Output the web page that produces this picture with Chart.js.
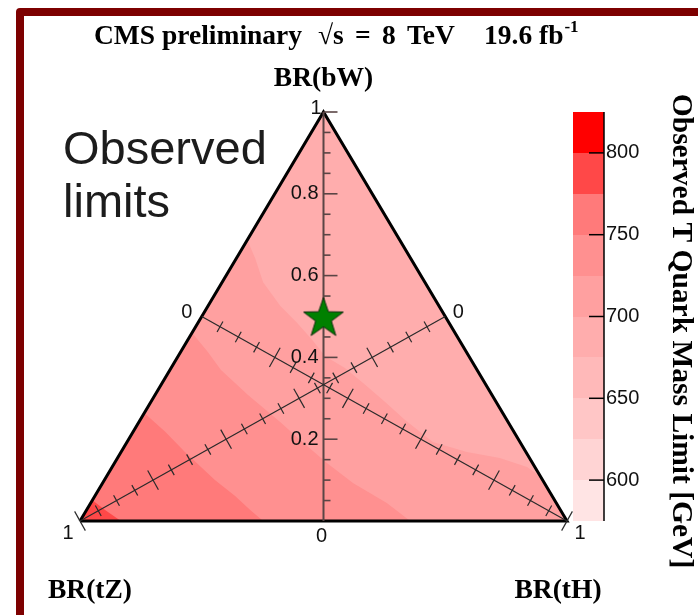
<!DOCTYPE html>
<html>
<head>
<meta charset="utf-8">
<script src="https://cdn.jsdelivr.net/npm/chart.js@4.4.0/dist/chart.umd.min.js"></script>
<style>
  html, body { margin: 0; padding: 0; background: #fff; }
  #wrap { width: 698px; height: 615px; position: relative; }
</style>
</head>
<body>
<div id="wrap"><canvas id="c" width="698" height="615"></canvas></div>
<script>
// Colour scale: band edges in GeV and the fill of each band [levels[i], levels[i+1])
const levels = [575, 600, 625, 650, 675, 700, 725, 750, 775, 800, 825];
const bandColors = ['#ffe4e4', '#ffd4d4', '#ffc6c6', '#ffb9b9', '#ffadad',
                    '#ffa0a0', '#ff9090', '#ff7a7a', '#ff4848', '#ff0000'];
const colorbarTicks = [600, 650, 700, 750, 800];

// Observed-limit iso-contours, each point given as [BR(tH), BR(bW)];
// BR(tZ) = 1 - BR(tH) - BR(bW). The region towards BR(tZ)=1 lies above the level.
const contour700 = [[0.000, 0.687], [0.038, 0.643], [0.084, 0.584], [0.148, 0.526],
                    [0.204, 0.484], [0.255, 0.443], [0.302, 0.403], [0.357, 0.374],
                    [0.419, 0.333], [0.481, 0.291], [0.544, 0.247], [0.628, 0.193],
                    [0.710, 0.169], [0.785, 0.154], [0.852, 0.132], [0.892, 0.108]];
const contour725 = [[0.000, 0.460], [0.056, 0.413], [0.105, 0.369], [0.191, 0.308],
                    [0.290, 0.242], [0.353, 0.198], [0.436, 0.142], [0.514, 0.093],
                    [0.608, 0.044], [0.678, 0.000]];
const contour750 = [[0.000, 0.264], [0.066, 0.218], [0.131, 0.169], [0.227, 0.100],
                    [0.288, 0.061], [0.336, 0.027], [0.376, 0.000]];
const contour775 = [[0.000, 0.051], [0.038, 0.027], [0.084, 0.000]];
const contourList = [contour700, contour725, contour750, contour775];
const contourLevels = [700, 725, 750, 775];
const baseLevel = 675;   // lowest band, covering the rest of the triangle

// Axis ticks along each branching ratio
const brMajor = [0.2, 0.4, 0.6, 0.8];
const brStep = 0.05;

// Standard-model-like point: BR(bW)=0.5, BR(tZ)=BR(tH)=0.25
const smPoint = { bW: 0.5, tH: 0.25 };

// Ternary -> cartesian: tZ=1 at (0,0), tH=1 at (1,0), bW=1 at (0.5,1)
function toXY(tH, bW) { return { x: tH + bW / 2, y: bW }; }
function bandColor(level) { return bandColors[levels.indexOf(level)]; }

function regionPoints(contour) {
  const pts = contour.map(([tH, bW]) => toXY(tH, bW));
  const [eTH, eBW] = contour[contour.length - 1];
  if (eTH + eBW > 0.999) pts.push(toXY(1, 0));
  pts.push(toXY(0, 0));
  pts.push(pts[0]);
  return pts;
}

function makeStar(R, r) {
  const size = Math.ceil(2 * R + 4);
  const c = document.createElement('canvas');
  c.width = c.height = size;
  const g = c.getContext('2d');
  const cx = size / 2, cy = size / 2 + 0.095 * R;
  g.beginPath();
  for (let k = 0; k < 10; k++) {
    const rad = (k % 2) ? r : R;
    const a = -Math.PI / 2 + k * Math.PI / 5;
    g.lineTo(cx + rad * Math.cos(a), cy + rad * Math.sin(a));
  }
  g.closePath();
  g.fillStyle = '#008000';
  g.fill();
  g.strokeStyle = '#0b2d0b';
  g.lineWidth = 1;
  g.stroke();
  return c;
}

const triangle = [toXY(0, 0), toXY(1, 0), toXY(0, 1), toXY(0, 0)];

function fillSet(data, color, order) {
  return {
    data, showLine: true, fill: 'shape', tension: 0,
    backgroundColor: color, borderColor: 'rgba(0,0,0,0)', borderWidth: 0,
    pointRadius: 0, order
  };
}

const datasets = [fillSet(triangle, bandColor(baseLevel), 20)];
contourList.forEach((c, i) => {
  datasets.push(fillSet(regionPoints(c), bandColor(contourLevels[i]), 19 - i));
});
datasets.push({
  label: 'outline', data: triangle, showLine: true, fill: false, tension: 0,
  borderColor: '#000', borderWidth: 3, borderJoinStyle: 'miter',
  pointRadius: 0, clip: false, order: 5
});
datasets.push({
  label: 'sm', data: [toXY(smPoint.tH, smPoint.bW)], showLine: false,
  pointStyle: makeStar(21, 8.3), pointRadius: 21, clip: false, order: 0
});

const SANS = '"Liberation Sans", Arial, sans-serif';
const SERIF = '"Liberation Serif", "Times New Roman", serif';

function drawAxes(chart) {
  const ctx = chart.ctx;
  const xs = chart.scales.x, ys = chart.scales.y;
  const P = (tH, bW) => ({ x: xs.getPixelForValue(tH + bW / 2), y: ys.getPixelForValue(bW) });
  const nSteps = Math.round(1 / brStep);
  const isMajor = i => i % Math.round(0.2 / brStep) === 0;
  ctx.save();

  // BR(bW) axis, vertical through the apex
  const x0 = xs.getPixelForValue(0.5);
  ctx.strokeStyle = '#5a4545';
  ctx.lineWidth = 2;
  ctx.beginPath();
  ctx.moveTo(x0, ys.getPixelForValue(0));
  ctx.lineTo(x0, ys.getPixelForValue(1));
  ctx.stroke();
  ctx.lineWidth = 1.6;
  for (let i = 1; i <= nSteps; i++) {
    const y = ys.getPixelForValue(i * brStep);
    const len = isMajor(i) ? 14 : 7;
    ctx.beginPath();
    ctx.moveTo(x0, y);
    ctx.lineTo(x0 + len, y);
    ctx.stroke();
  }

  // BR(tZ) and BR(tH) axes: from each lower vertex to the opposite side's midpoint
  const axisPoint = [
    t => P((1 - t) / 2, (1 - t) / 2),   // BR(tZ) = t
    t => P(t, (1 - t) / 2)              // BR(tH) = t
  ];
  ctx.strokeStyle = '#2a2a2a';
  axisPoint.forEach(f => {
    const a = f(1), b = f(0);
    const dx = b.x - a.x, dy = b.y - a.y, L = Math.hypot(dx, dy);
    const nx = -dy / L, ny = dx / L;
    ctx.lineWidth = 1.2;
    ctx.beginPath();
    ctx.moveTo(a.x, a.y);
    ctx.lineTo(b.x, b.y);
    ctx.stroke();
    for (let i = 1; i <= nSteps; i++) {
      const p = f(i * brStep);
      const h = isMajor(i) ? 11 : 6;
      ctx.beginPath();
      ctx.moveTo(p.x - nx * h, p.y - ny * h);
      ctx.lineTo(p.x + nx * h, p.y + ny * h);
      ctx.stroke();
    }
  });

  // axis labels
  ctx.fillStyle = '#111';
  ctx.font = '20px ' + SANS;
  ctx.textAlign = 'right';
  ctx.textBaseline = 'middle';
  brMajor.forEach(v => ctx.fillText(v.toFixed(1), x0 - 5, ys.getPixelForValue(v)));
  ctx.fillText('1', x0 - 2, ys.getPixelForValue(1) - 4);
  ctx.textAlign = 'center';
  ctx.fillText('0', x0 - 2, ys.getPixelForValue(0) + 15);
  const vZ = P(0, 0), vH = P(1, 0), mL = P(0, 0.5), mR = P(0.5, 0.5);
  ctx.fillText('1', vZ.x - 12, vZ.y + 12);
  ctx.fillText('1', vH.x + 13, vH.y + 12);
  ctx.fillText('0', mL.x - 15, mL.y - 4);
  ctx.fillText('0', mR.x + 13, mR.y - 4);
  ctx.restore();
}

function drawTexts(chart) {
  const ctx = chart.ctx;
  const area = chart.chartArea;
  ctx.save();
  ctx.fillStyle = '#000';
  ctx.textBaseline = 'alphabetic';
  ctx.textAlign = 'left';
  ctx.font = 'bold 27.5px ' + SERIF;
  ctx.fillText('CMS preliminary', 94, 44);
  ctx.fillText('\u221As', 318, 44);
  ctx.fillText('=', 355, 44);
  ctx.fillText('8', 382, 44);
  ctx.fillText('TeV', 407, 44);
  ctx.fillText('19.6 fb', 484, 44);
  const w = ctx.measureText('19.6 fb').width;
  ctx.font = 'bold 17px ' + SERIF;
  ctx.fillText('-1', 484 + w + 1, 32);

  ctx.font = 'bold 27.5px ' + SERIF;
  ctx.textAlign = 'center';
  const cx = (area.left + area.right) / 2;
  ctx.fillText('BR(bW)', cx, 86);
  ctx.fillText('BR(tZ)', area.left + 10, 598);
  ctx.fillText('BR(tH)', area.right - 9, 598);

  ctx.textAlign = 'left';
  ctx.fillStyle = '#1c1c1c';
  ctx.font = '47px ' + SANS;
  ctx.fillText('Observed', 63, 164);
  ctx.fillText('limits', 63, 217);
  ctx.restore();
}

function drawColorbar(chart) {
  const ctx = chart.ctx;
  const zs = chart.scales.z;
  const left = chart.chartArea.right + 6, right = left + 31;
  ctx.save();
  for (let i = 0; i < bandColors.length; i++) {
    const top = Math.round(zs.getPixelForValue(levels[i + 1]));
    const bot = Math.round(zs.getPixelForValue(levels[i]));
    ctx.fillStyle = bandColors[i];
    ctx.fillRect(left, top, right - left, bot - top);
  }
  ctx.strokeStyle = '#000';
  ctx.lineWidth = 1.5;
  ctx.beginPath();
  ctx.moveTo(right, zs.getPixelForValue(levels[levels.length - 1]));
  ctx.lineTo(right, zs.getPixelForValue(levels[0]));
  ctx.stroke();
  ctx.fillStyle = '#111';
  ctx.font = '20px ' + SANS;
  ctx.textAlign = 'left';
  ctx.textBaseline = 'middle';
  colorbarTicks.forEach(v => {
    const y = zs.getPixelForValue(v);
    ctx.beginPath();
    ctx.moveTo(right - 15, y);
    ctx.lineTo(right, y);
    ctx.stroke();
    ctx.fillText(String(v), right + 2, y);
  });
  ctx.translate(681, 331);
  ctx.rotate(Math.PI / 2);
  ctx.textAlign = 'center';
  ctx.fillStyle = '#000';
  ctx.font = 'bold 29.5px ' + SERIF;
  ctx.fillText('Observed T Quark Mass Limit [GeV]', 0, 0);
  ctx.restore();
}

const decor = {
  id: 'ternaryDecor',
  beforeDraw(chart) {
    const ctx = chart.ctx;
    ctx.save();
    ctx.fillStyle = '#fff';
    ctx.fillRect(0, 0, chart.width, chart.height);
    ctx.strokeStyle = '#7d0000';
    ctx.lineWidth = 8;
    ctx.lineJoin = 'round';
    ctx.strokeRect(20, 12, chart.width + 40, chart.height + 40);
    ctx.restore();
  },
  afterDatasetDraw(chart, args) {
    if (chart.data.datasets[args.index].label === 'outline') drawAxes(chart);
  },
  afterDraw(chart) {
    drawTexts(chart);
    drawColorbar(chart);
  }
};

new Chart(document.getElementById('c'), {
  type: 'line',
  data: { datasets },
  options: {
    responsive: false,
    animation: false,
    events: [],
    layout: { padding: { left: 80, right: 131, top: 112, bottom: 94 } },
    scales: {
      x: { type: 'linear', display: false, min: 0, max: 1 },
      y: { type: 'linear', display: false, min: 0, max: 1 },
      z: { type: 'linear', display: false, min: levels[0], max: levels[levels.length - 1], position: 'right' }
    },
    plugins: { legend: { display: false }, tooltip: { enabled: false } }
  },
  plugins: [decor]
});
</script>
</body>
</html>
